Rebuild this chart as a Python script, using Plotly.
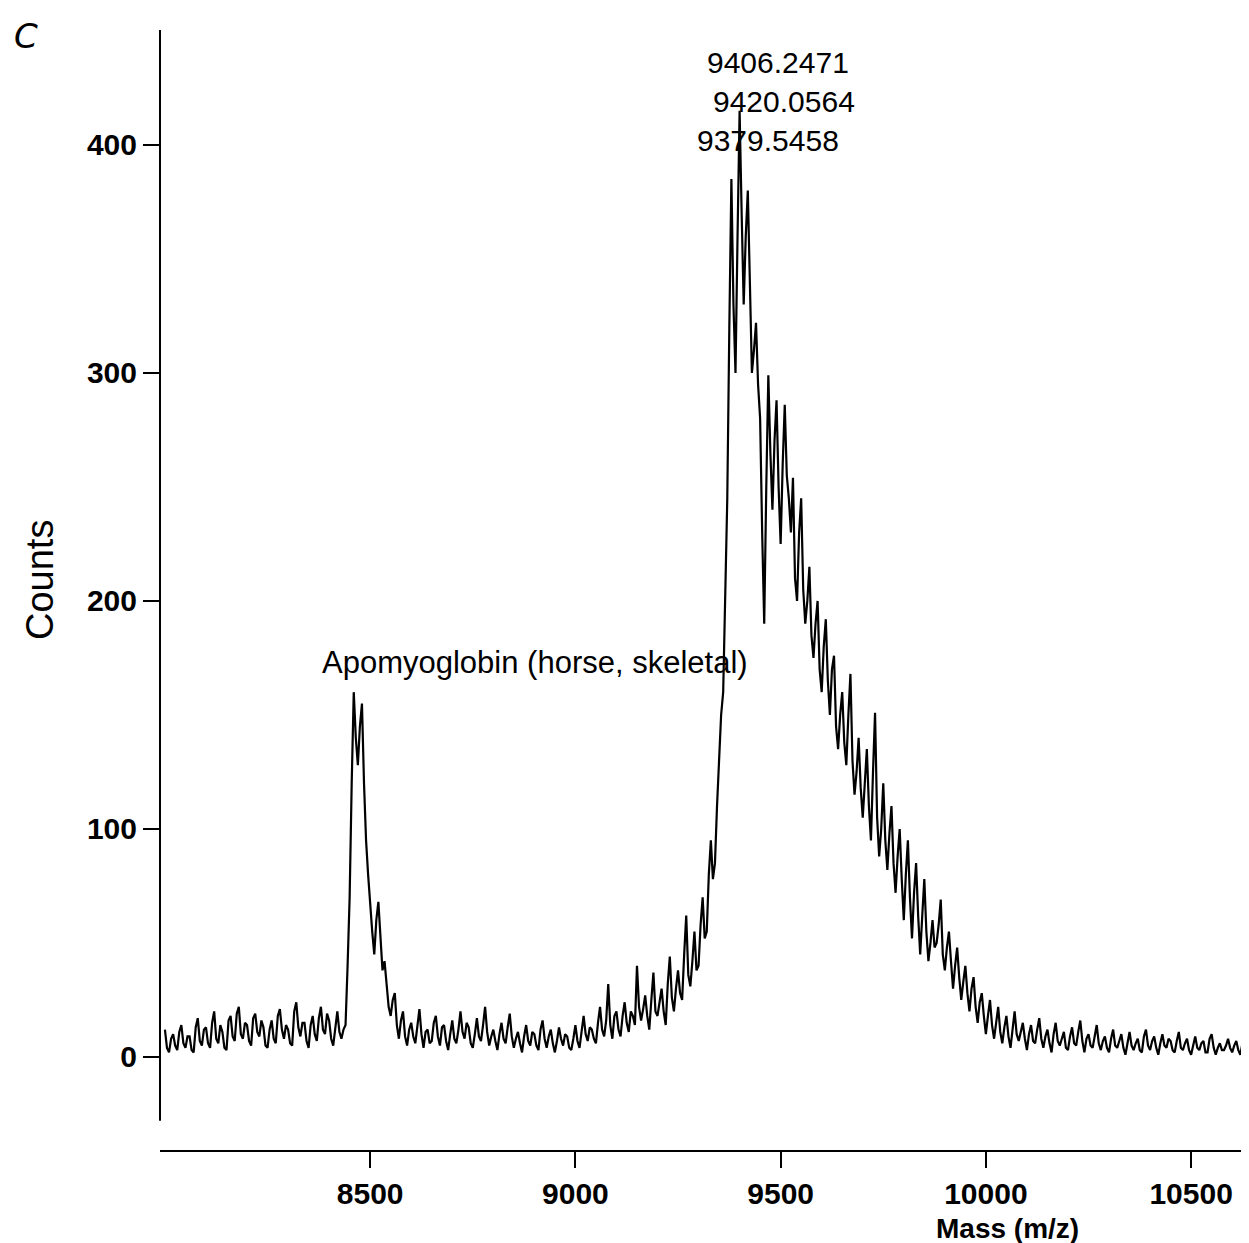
import plotly.graph_objects as go

mz_start = 8000
mz_step = 5
counts = [
    12, 4, 2, 8, 10, 5, 3, 11, 14, 6, 4, 9, 9, 3, 2, 13, 17, 7, 5, 12,            # 8000
    13, 6, 4, 15, 20, 8, 6, 14, 11, 4, 3, 16, 18, 9, 7, 19, 22, 10, 8, 15,        # 8100
    14, 7, 5, 17, 19, 11, 9, 16, 13, 5, 4, 12, 16, 8, 6, 18, 21, 12, 8, 14,       # 8200
    12, 6, 5, 20, 24, 13, 9, 15, 15, 7, 4, 14, 18, 10, 7, 17, 22, 12, 10, 19,     # 8300
    16, 8, 5, 14, 20, 11, 8, 12, 14, 40, 70, 120, 160, 140, 128, 145, 155, 120, 95, 80,   # 8400
    65, 55, 45, 60, 68, 50, 38, 42, 30, 22, 18, 25, 28, 14, 8, 16, 20, 9, 5, 12,  # 8500
    15, 9, 6, 14, 21, 10, 4, 11, 12, 6, 7, 15, 18, 9, 5, 13, 14, 7, 3, 10,        # 8600
    16, 8, 6, 12, 20, 11, 8, 15, 13, 6, 4, 10, 17, 9, 7, 14, 22, 11, 5, 9,        # 8700
    12, 7, 3, 10, 15, 8, 6, 13, 19, 9, 4, 8, 11, 6, 2, 9, 14, 7, 5, 11,           # 8800
    10, 5, 3, 12, 16, 8, 4, 9, 12, 6, 2, 7, 13, 8, 5, 10, 9, 4, 3, 8,             # 8900
    14, 7, 4, 11, 18, 10, 7, 13, 12, 8, 6, 15, 22, 12, 9, 16, 32, 14, 8, 18,      # 9000
    20, 12, 9, 18, 24, 15, 11, 20, 18, 14, 40, 22, 16, 21, 27, 18, 12, 25, 37, 20,    # 9100
    18, 24, 30, 20, 14, 32, 44, 26, 20, 30, 38, 28, 25, 45, 62, 36, 31, 42, 55, 38,   # 9200
    40, 58, 70, 52, 55, 80, 95, 78, 85, 110, 130, 150, 160, 200, 245, 320, 385, 330, 300, 360,  # 9300
    415, 370, 330, 360, 380, 340, 300, 310, 322, 295, 280, 230, 190, 250, 299, 265, 240, 270, 288, 250,  # 9400
    225, 260, 286, 255, 245, 230, 254, 210, 200, 230, 245, 205, 190, 200, 215, 185, 175, 190, 200, 170,  # 9500
    160, 180, 192, 165, 150, 170, 176, 145, 135, 150, 160, 138, 128, 150, 168, 130, 115, 125, 140, 118,  # 9600
    105, 120, 135, 110, 95, 125, 151, 105, 88, 100, 120, 95, 82, 98, 110, 85, 72, 88, 100, 78,  # 9700
    60, 80, 95, 70, 52, 72, 85, 62, 45, 62, 78, 55, 42, 50, 60, 48, 50, 58, 69, 45,   # 9800
    38, 48, 55, 42, 30, 40, 48, 35, 25, 33, 40, 28, 20, 30, 35, 22, 15, 24, 28, 18,   # 9900
    10, 18, 25, 14, 8, 15, 22, 11, 6, 13, 18, 9, 4, 12, 20, 10, 7, 11, 15, 8,     # 10000
    3, 10, 14, 7, 6, 12, 17, 8, 4, 9, 12, 6, 2, 10, 15, 7, 5, 8, 11, 4,           # 10100
    3, 9, 13, 6, 5, 11, 16, 7, 2, 8, 10, 5, 4, 9, 14, 6, 3, 7, 9, 4,              # 10200
    2, 8, 12, 5, 4, 7, 10, 4, 1, 6, 11, 5, 3, 6, 8, 3, 2, 9, 12, 5,               # 10300
    3, 7, 9, 4, 1, 6, 10, 5, 4, 8, 7, 3, 2, 7, 11, 4, 3, 6, 8, 3,                 # 10400
    1, 5, 9, 4, 3, 6, 7, 2, 2, 8, 10, 4, 1, 4, 6, 3, 3, 5, 8, 4,                  # 10500
    2, 5, 7, 3, 1, 6, 9, 4, 3,                                                    # 10600
]
mz = [mz_start + mz_step * i for i in range(len(counts))]

x_ticks = [8500, 9000, 9500, 10000, 10500]
y_ticks = [0, 100, 200, 300, 400]

peak_labels = ["9406.2471", "9420.0564", "9379.5458"]
protein_label = "Apomyoglobin (horse, skeletal)"
panel_label = "C"
x_title = "Mass (m/z)"
y_title = "Counts"

FONT = "Liberation Sans, Arial, sans-serif"

# page body has an 8px margin; plot area should span x 160..1249, y 30..1150
PW, PH = 1089, 1120

fig = go.Figure()
fig.add_trace(go.Scatter(
    x=mz, y=counts, mode="lines",
    line=dict(color="black", width=2.2),
    hoverinfo="skip", showlegend=False,
))

fig.update_layout(
    width=1241, height=1235,
    margin=dict(l=152, r=0, t=22, b=93),
    paper_bgcolor="white", plot_bgcolor="white",
    font=dict(family=FONT, color="black"),
    showlegend=False,
    xaxis=dict(
        range=[7988, 10641], tickvals=x_ticks, ticktext=[str(v) for v in x_ticks],
        ticks="outside", ticklen=16, tickwidth=2, tickcolor="black",
        showline=True, linecolor="black", linewidth=2,
        showgrid=False, zeroline=False,
        tickfont=dict(family=FONT, size=30, color="black", weight="bold"),
    ),
    yaxis=dict(
        range=[-40.8, 450.4], tickvals=y_ticks, ticktext=[str(v) for v in y_ticks],
        ticks="outside", ticklen=16, tickwidth=2, tickcolor="black",
        showline=False, showgrid=False, zeroline=False,
        tickfont=dict(family=FONT, size=30, color="black", weight="bold"),
    ),
)

# y axis line (stops short of the x axis, as in the original)
fig.add_shape(type="line", xref="paper", yref="y", x0=0, x1=0, y0=-28, y1=450.4,
              line=dict(color="black", width=2))

# peak labels
label_pos = [(9494, 436), (9508, 419), (9470, 402)]
for txt, (lx, ly) in zip(peak_labels, label_pos):
    fig.add_annotation(x=lx, y=ly, xref="x", yref="y", text=txt, showarrow=False,
                       font=dict(family=FONT, size=30, color="black"),
                       xanchor="center", yanchor="middle")

fig.add_annotation(x=8902, y=173, xref="x", yref="y", text=protein_label, showarrow=False,
                   font=dict(family=FONT, size=31, color="black"),
                   xanchor="center", yanchor="middle")

# axis titles
fig.add_annotation(x=(1007 - 160) / PW, y=(1150 - 1228) / PH, xref="paper", yref="paper",
                   text=x_title, showarrow=False,
                   font=dict(family=FONT, size=28, color="black", weight="bold"),
                   xanchor="center", yanchor="middle")
fig.add_annotation(x=(40 - 160) / PW, y=(1150 - 580) / PH, xref="paper", yref="paper",
                   text=y_title, showarrow=False, textangle=-90,
                   font=dict(family=FONT, size=38, color="black"),
                   xanchor="center", yanchor="middle")

# panel letter
fig.add_annotation(x=(26 - 160) / PW, y=(1150 - 36) / PH, xref="paper", yref="paper",
                   text="<i>" + panel_label + "</i>", showarrow=False,
                   font=dict(family="DejaVu Sans, sans-serif", size=34, color="black"),
                   xanchor="center", yanchor="middle")

fig.write_html("out.html")
